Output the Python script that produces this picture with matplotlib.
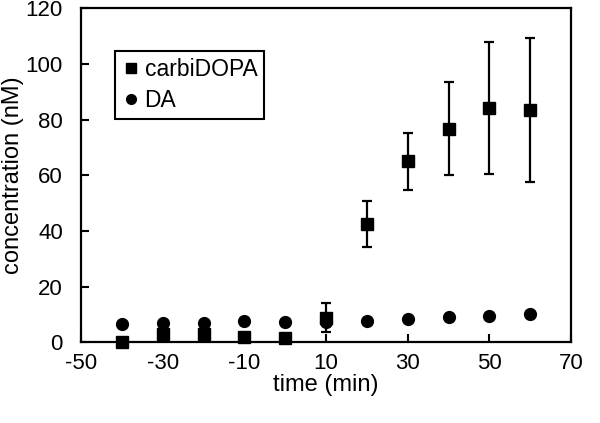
import matplotlib.pyplot as plt
from matplotlib.lines import Line2D
import numpy as np

plt.rcParams['font.family'] = ['Liberation Sans', 'DejaVu Sans']
plt.rcParams['axes.unicode_minus'] = False

# data
time = [-40, -30, -20, -10, 0, 10, 20, 30, 40, 50, 60]
carbidopa = [0.0, 2.9, 2.9, 2.0, 1.4, 8.8, 42.5, 65.0, 76.8, 84.1, 83.4]
carbidopa_err = [0.3, 0.5, 0.5, 0.4, 0.3, 5.3, 8.1, 10.2, 16.8, 23.8, 25.8]
da = [6.7, 6.8, 7.0, 7.6, 7.1, 7.4, 7.8, 8.5, 9.0, 9.5, 10.1]
da_err = [0.3, 0.3, 0.3, 0.3, 0.3, 0.3, 0.3, 0.3, 0.3, 0.3, 0.3]

fig = plt.figure(figsize=(6, 4.23), dpi=100)
ax = fig.add_axes([0.135, 0.191, 0.817, 0.789])

ax.errorbar(time, carbidopa, yerr=carbidopa_err, fmt='s', color='black',
            markersize=8.5, elinewidth=1.6, capsize=3.5, capthick=1.6,
            clip_on=False, zorder=3)
ax.errorbar(time, da, yerr=da_err, fmt='o', color='black',
            markersize=8.5, elinewidth=1.6, capsize=3.5, capthick=1.6,
            clip_on=False, zorder=3)

ax.set_xlim(-50, 70)
ax.set_ylim(0, 120)
ax.set_xticks(np.arange(-50, 71, 20))
ax.set_yticks(np.arange(0, 121, 20))
ax.tick_params(direction='in', length=6, width=1.5, labelsize=16)
ax.tick_params(axis='x', pad=8)
ax.tick_params(axis='y', pad=13)
for s in ax.spines.values():
    s.set_linewidth(1.6)

ax.set_xlabel('time (min)', fontsize=17, labelpad=0)
ax.set_ylabel('concentration (nM)', fontsize=17, labelpad=1)

handles = [Line2D([], [], marker='s', color='black', linestyle='none', markersize=7),
           Line2D([], [], marker='o', color='black', linestyle='none', markersize=7)]
leg = ax.legend(handles, ['carbiDOPA', 'DA'], loc='upper left',
                bbox_to_anchor=(0.069, 0.873), fontsize=16.5,
                frameon=True, fancybox=False, edgecolor='black', framealpha=1,
                handletextpad=0.2, handlelength=0.8, borderpad=0.3,
                labelspacing=0.35, borderaxespad=0)
leg.get_frame().set_linewidth(1.5)

fig.savefig('out.png', dpi=100)
